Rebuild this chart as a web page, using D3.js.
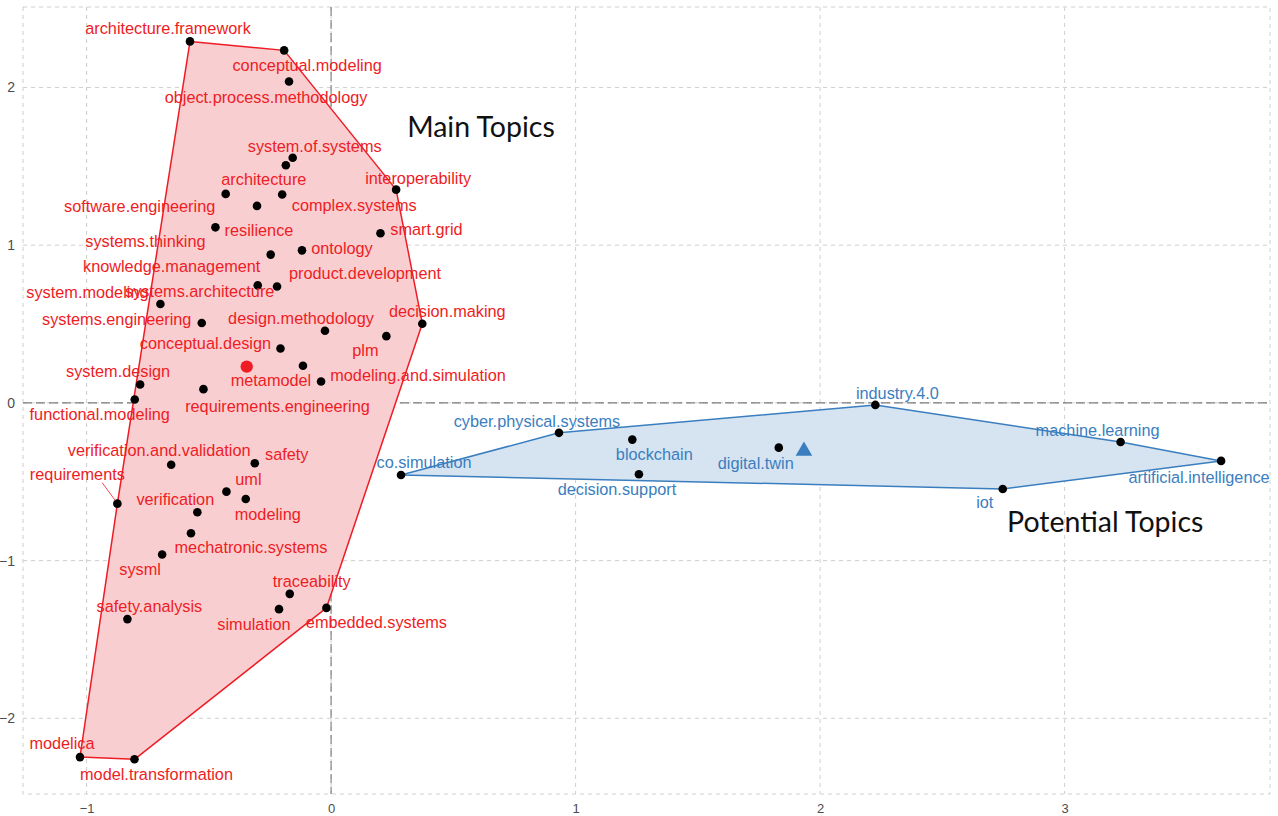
<!DOCTYPE html>
<html>
<head>
<meta charset="utf-8">
<script src="https://cdn.jsdelivr.net/npm/d3@7"></script>
<style>
  html, body { margin: 0; padding: 0; background: #ffffff; }
  svg { display: block; }
</style>
</head>
<body>
<svg id="chart" width="1278" height="816"></svg>
<script>
// ---------------- DATA ----------------
const mainTopics = [
  "architecture.framework", "conceptual.modeling", "object.process.methodology",
  "system.of.systems", "architecture", "software.engineering", "complex.systems",
  "resilience", "interoperability", "smart.grid", "systems.thinking", "ontology",
  "knowledge.management", "systems.architecture", "product.development",
  "system.modeling", "systems.engineering", "design.methodology", "decision.making",
  "plm", "conceptual.design", "metamodel", "modeling.and.simulation", "system.design",
  "requirements.engineering", "functional.modeling", "verification.and.validation",
  "safety", "requirements", "uml", "modeling", "verification", "mechatronic.systems",
  "sysml", "traceability", "safety.analysis", "simulation", "embedded.systems",
  "modelica", "model.transformation"
];
const mainX = [
  -0.577, -0.192, -0.172, -0.157, -0.185, -0.431, -0.200, -0.303, 0.266, 0.202,
  -0.473, -0.119, -0.247, -0.300, -0.221, -0.698, -0.529, -0.025, 0.373, 0.226,
  -0.207, -0.115, -0.041, -0.781, -0.522, -0.803, -0.654, -0.312, -0.874, -0.428,
  -0.349, -0.547, -0.573, -0.691, -0.169, -0.833, -0.213, -0.019, -1.027, -0.804
];
const mainY = [
  2.292, 2.235, 2.038, 1.554, 1.507, 1.325, 1.321, 1.249, 1.352, 1.075,
  1.113, 0.967, 0.940, 0.745, 0.738, 0.627, 0.506, 0.457, 0.502, 0.423,
  0.345, 0.235, 0.135, 0.116, 0.087, 0.021, -0.392, -0.383, -0.639, -0.563,
  -0.610, -0.694, -0.827, -0.961, -1.211, -1.371, -1.308, -1.300, -2.246, -2.260
];

const potentialTopics = [
  "co.simulation", "cyber.physical.systems", "blockchain", "decision.support",
  "digital.twin", "industry.4.0", "machine.learning", "artificial.intelligence", "iot"
];
const potentialX = [0.286, 0.932, 1.232, 1.259, 1.831, 2.226, 3.229, 3.640, 2.747];
const potentialY = [-0.457, -0.190, -0.233, -0.453, -0.284, -0.013, -0.248, -0.368, -0.546];

const clusterNames = ["Main Topics", "Potential Topics"];
const centroidX = [-0.345, 1.934];
const centroidY = [0.230, -0.299];
const annotX = [0.613, 3.166];
const annotY = [1.683, -0.819];

const xTicks = [-1, 0, 1, 2, 3];
const yTicks = [-2, -1, 0, 1, 2];

// ---------------- LAYOUT (label offsets in px, repel-style) ----------------
const labelOffset = {
  "architecture.framework": [-22, -13], "conceptual.modeling": [23, 15],
  "object.process.methodology": [-23, 16], "system.of.systems": [22, -12],
  "architecture": [-22, 14], "software.engineering": [-86, 12],
  "complex.systems": [72, 11], "resilience": [2, 24], "interoperability": [22, -12],
  "smart.grid": [46, -4], "systems.thinking": [-70, 14], "ontology": [40, -2],
  "knowledge.management": [-99, 12], "systems.architecture": [-58, 6],
  "product.development": [88, -13], "system.modeling": [-73, -12],
  "systems.engineering": [-85, -4], "design.methodology": [-24, -13],
  "decision.making": [25, -13], "plm": [-21, 14], "conceptual.design": [-75, -5],
  "metamodel": [-32, 14], "modeling.and.simulation": [97, -6], "system.design": [-22, -13],
  "requirements.engineering": [74, 17], "functional.modeling": [-35, 15],
  "verification.and.validation": [-12, -15], "safety": [32, -9],
  "requirements": [-40, -30], "uml": [22, -13], "modeling": [22, 15],
  "verification": [-22, -13], "mechatronic.systems": [60, 14], "sysml": [-22, 15],
  "traceability": [22, -13], "safety.analysis": [22, -13], "simulation": [-25, 15],
  "embedded.systems": [50, 14], "modelica": [-18, -14], "model.transformation": [22, 15],
  "co.simulation": [23, -13], "cyber.physical.systems": [-22, -12],
  "blockchain": [22, 15], "decision.support": [-22, 15], "digital.twin": [-23, 15],
  "industry.4.0": [22, -12], "machine.learning": [-23, -12],
  "artificial.intelligence": [-22, 16], "iot": [-18, 13]
};
const withSegment = ["requirements"];

const W = 1278, H = 816;
const panel = { left: 23, right: 1270, top: 7, bottom: 794 };
const colors = {
  main: { stroke: "#EE1C24", fill: "#F9CED1", text: "#EE1C24" },
  potential: { stroke: "#3A7EBF", fill: "#D6E4F1", text: "#3A7EBF" }
};
const labelFont = "'Liberation Sans', Arial, sans-serif";

// ---------------- SCALES ----------------
const x = d3.scaleLinear().domain([-1.26, 3.84]).range([panel.left, panel.right]);
const y = d3.scaleLinear().domain([-2.48, 2.51]).range([panel.bottom, panel.top]);

const svg = d3.select("#chart");

// grid
const grid = svg.append("g");
grid.selectAll("line.vg").data(xTicks).join("line")
  .attr("x1", d => x(d)).attr("x2", d => x(d))
  .attr("y1", panel.top).attr("y2", panel.bottom)
  .attr("stroke", "#CFCFCF").attr("stroke-width", 1).attr("stroke-dasharray", "4,4");
grid.selectAll("line.hg").data(yTicks).join("line")
  .attr("y1", d => y(d)).attr("y2", d => y(d))
  .attr("x1", panel.left).attr("x2", panel.right)
  .attr("stroke", "#CFCFCF").attr("stroke-width", 1).attr("stroke-dasharray", "4,4");
grid.append("rect")
  .attr("x", panel.left).attr("y", panel.top)
  .attr("width", panel.right - panel.left).attr("height", panel.bottom - panel.top)
  .attr("fill", "none").attr("stroke", "#CFCFCF").attr("stroke-dasharray", "4,4");

// axes (text only)
const fmt = d3.format("d");
const xAxis = d3.axisBottom(x).tickValues(xTicks).tickFormat(fmt).tickSize(0).tickPadding(0);
const gx = svg.append("g").attr("transform", `translate(0,${panel.bottom + 9})`).call(xAxis);
gx.select(".domain").remove();
gx.selectAll("text").attr("font-family", labelFont).attr("font-size", 13)
  .attr("fill", "#4D4D4D").attr("dy", "0.75em");

const yAxis = d3.axisLeft(y).tickValues(yTicks).tickFormat(fmt).tickSize(0).tickPadding(0);
const gy = svg.append("g").attr("transform", `translate(${panel.left - 8},0)`).call(yAxis);
gy.select(".domain").remove();
gy.selectAll("text").attr("font-family", labelFont).attr("font-size", 14)
  .attr("fill", "#4D4D4D");

// zero reference lines
svg.append("line")
  .attr("x1", x(0)).attr("x2", x(0)).attr("y1", panel.top).attr("y2", panel.bottom)
  .attr("stroke", "#7A7A7A").attr("stroke-width", 1.1).attr("stroke-dasharray", "9,4");
svg.append("line")
  .attr("y1", y(0)).attr("y2", y(0)).attr("x1", panel.left).attr("x2", panel.right)
  .attr("stroke", "#7A7A7A").attr("stroke-width", 1.1).attr("stroke-dasharray", "9,4");

// build groups
const groups = [
  { key: "main", names: mainTopics, xs: mainX, ys: mainY, col: colors.main },
  { key: "potential", names: potentialTopics, xs: potentialX, ys: potentialY, col: colors.potential }
];

groups.forEach(g => {
  const pts = g.names.map((n, i) => [x(g.xs[i]), y(g.ys[i])]);
  const hull = d3.polygonHull(pts);
  svg.append("path")
    .attr("d", "M" + hull.map(p => p.join(",")).join("L") + "Z")
    .attr("fill", g.col.fill).attr("stroke", g.col.stroke).attr("stroke-width", 1.5)
    .attr("stroke-linejoin", "round");
});

// centroids
svg.append("circle")
  .attr("cx", x(centroidX[0])).attr("cy", y(centroidY[0])).attr("r", 6.2)
  .attr("fill", colors.main.stroke);
svg.append("path")
  .attr("d", d3.symbol().type(d3.symbolTriangle).size(120)())
  .attr("transform", `translate(${x(centroidX[1])},${y(centroidY[1]) + 1})`)
  .attr("fill", colors.potential.stroke);

// points
groups.forEach(g => {
  svg.append("g").selectAll("circle").data(g.names).join("circle")
    .attr("cx", (d, i) => x(g.xs[i])).attr("cy", (d, i) => y(g.ys[i]))
    .attr("r", 4.3).attr("fill", "#000");
});

// labels
groups.forEach(g => {
  const lg = svg.append("g");
  g.names.forEach((n, i) => {
    const off = labelOffset[n] || [0, -14];
    const px = x(g.xs[i]), py = y(g.ys[i]);
    if (withSegment.includes(n)) {
      lg.append("line")
        .attr("x1", px + off[0] * 0.38).attr("y1", py + off[1] * 0.7)
        .attr("x2", px - 2).attr("y2", py - 3)
        .attr("stroke", g.col.stroke).attr("stroke-width", 0.8);
    }
    lg.append("text")
      .attr("x", px + off[0]).attr("y", py + off[1])
      .attr("dy", "0.36em")
      .attr("text-anchor", "middle")
      .attr("font-family", labelFont).attr("font-size", 16.3)
      .attr("fill", g.col.text)
      .text(n);
  });
});

// cluster annotations
svg.append("g").selectAll("text").data(clusterNames).join("text")
  .attr("x", (d, i) => x(annotX[i])).attr("y", (d, i) => y(annotY[i]))
  .attr("text-anchor", "middle")
  .attr("font-family", "Lato, 'Open Sans', sans-serif").attr("font-size", 28.5)
  .attr("fill", "#111")
  .text(d => d);
</script>
</body>
</html>
